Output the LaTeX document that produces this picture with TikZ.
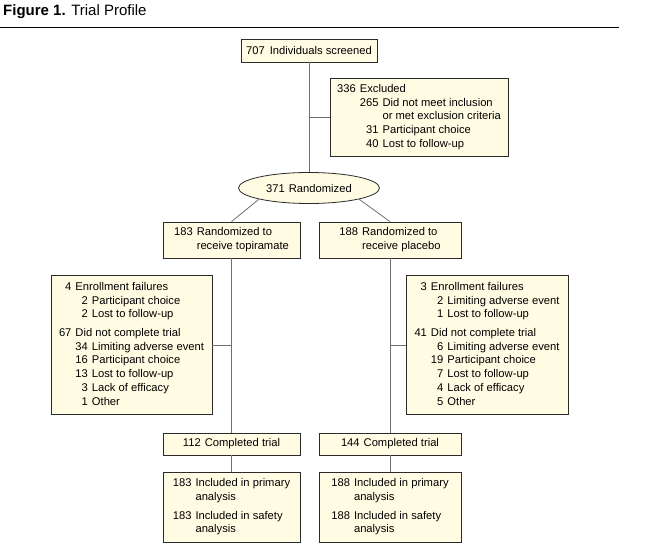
\documentclass[tikz,border=0pt]{standalone}
\usepackage{fontspec}
\setmainfont{Liberation Sans}
\usetikzlibrary{shapes.geometric}

\definecolor{boxfill}{HTML}{FFFCE3}
\definecolor{boxline}{HTML}{2B2B2B}
\definecolor{linkgray}{HTML}{6E6E6E}
\newcommand{\flowfont}{\fontsize{11.2}{13.7}\selectfont}
\newcommand{\gap}{\hspace{4pt}}
\newcommand{\head}[1]{\multicolumn{2}{@{}l@{}}{#1}}

\tikzset{
  stagebox/.style={draw=boxline, fill=boxfill, line width=0.8pt, inner sep=0pt, font=\flowfont},
  link/.style={draw=linkgray, line width=0.8pt}
}

\begin{document}
\begin{tikzpicture}[x=1pt, y=-1pt]
  \useasboundingbox (0,0) rectangle (647,552);
  % Title and rule
  \node[anchor=base west, inner sep=0pt, font=\fontsize{15}{18}\selectfont] (title) at (3,15)
    {\textbf{Figure 1.} Trial Profile};
  \draw[line width=1.1pt] (0,27.5) -- (619,27.5);
  % Screening
  \node[stagebox, minimum width=136pt, minimum height=23pt] (screened) at (309,50.5)
    {707\hspace{5pt}Individuals screened};
  \node[stagebox, minimum width=178pt, minimum height=78pt] (excluded) at (419,117)
    {\begin{tabular}{@{}r@{\gap}r@{\gap}l@{}}
      336 & \head{Excluded}\\
      & 265 & Did not meet inclusion\\
      & & or met exclusion criteria\\
      & 31 & Participant choice\\
      & 40 & Lost to follow-up
    \end{tabular}};
  \node[stagebox, ellipse, minimum width=141pt, minimum height=31pt] (rand) at (309,188)
    {371\gap Randomized};
  % Allocation
  \node[stagebox, minimum width=137pt, minimum height=36pt] (topi) at (231.5,240)
    {\begin{tabular}{@{}r@{\gap}l@{}}
      183 & Randomized to\\
      & receive topiramate
    \end{tabular}};
  \node[stagebox, minimum width=142pt, minimum height=36pt] (placebo) at (390,240)
    {\begin{tabular}{@{}r@{\gap}l@{}}
      188 & Randomized to\\
      & receive placebo
    \end{tabular}};
  % Withdrawals
  \node[stagebox, minimum width=161pt, minimum height=139pt] (enrolL) at (131.5,345)
    {\begin{tabular}{@{}r@{\gap}r@{\gap}l@{}}
      4 & \head{Enrollment failures}\\
      & 2 & Participant choice\\
      & 2 & Lost to follow-up\\[5pt]
      67 & \head{Did not complete trial}\\
      & 34 & Limiting adverse event\\
      & 16 & Participant choice\\
      & 13 & Lost to follow-up\\
      & 3 & Lack of efficacy\\
      & 1 & Other
    \end{tabular}};
  \node[stagebox, minimum width=162pt, minimum height=139pt] (enrolR) at (487,345)
    {\begin{tabular}{@{}r@{\gap}r@{\gap}l@{}}
      3 & \head{Enrollment failures}\\
      & 2 & Limiting adverse event\\
      & 1 & Lost to follow-up\\[5pt]
      41 & \head{Did not complete trial}\\
      & 6 & Limiting adverse event\\
      & 19 & Participant choice\\
      & 7 & Lost to follow-up\\
      & 4 & Lack of efficacy\\
      & 5 & Other
    \end{tabular}};
  % Completion and analysis
  \node[stagebox, minimum width=137pt, minimum height=22pt] (compL) at (231.5,444)
    {112\gap Completed trial};
  \node[stagebox, minimum width=142pt, minimum height=22pt] (compR) at (390,444)
    {144\gap Completed trial};
  \node[stagebox, minimum width=137pt, minimum height=70pt] (anaL) at (231.5,507)
    {\begin{tabular}{@{}r@{\gap}l@{}}
      183 & Included in primary\\
      & analysis\\[5pt]
      183 & Included in safety\\
      & analysis
    \end{tabular}};
  \node[stagebox, minimum width=142pt, minimum height=70pt] (anaR) at (390,507)
    {\begin{tabular}{@{}r@{\gap}l@{}}
      188 & Included in primary\\
      & analysis\\[5pt]
      188 & Included in safety\\
      & analysis
    \end{tabular}};
  % Connectors
  \draw[link] (screened.south) -- (rand.north);
  \draw[link] (screened.south |- excluded.west) -- (excluded.west);
  \draw[link] (rand.south west) -- (topi.north);
  \draw[link] (rand.south east) -- (placebo.north);
  \draw[link] (topi.south) -- (compL.north);
  \draw[link] (placebo.south) -- (compR.north);
  \draw[link] (topi.south |- enrolL.east) -- (enrolL.east);
  \draw[link] (placebo.south |- enrolR.west) -- (enrolR.west);
  \draw[link] (compL.south) -- (anaL.north);
  \draw[link] (compR.south) -- (anaR.north);
\end{tikzpicture}
\end{document}
